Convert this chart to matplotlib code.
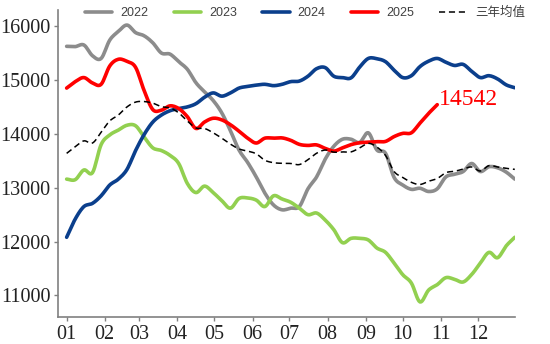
import numpy as np
import matplotlib
matplotlib.use("Agg")
import matplotlib.pyplot as plt

# Weekly prices (week 0 = first week of January)
weeks = list(range(53))

p2022 = [15625, 15620, 15650, 15450, 15400, 15740, 15900, 16020, 15880, 15820,
         15690, 15500, 15480, 15340, 15200, 14950, 14780, 14620, 14390, 14060,
         13700, 13470, 13200, 12900, 12680, 12590, 12620, 12650, 12980, 13200,
         13530, 13770, 13900, 13900, 13840, 14020, 13700, 13640, 13190, 13050,
         12970, 12990, 12930, 12980, 13200, 13250, 13300, 13450, 13300, 13390,
         13370, 13290, 13160]

p2023 = [13160, 13150, 13330, 13280, 13800, 13980, 14070, 14160, 14150, 13940,
         13740, 13690, 13600, 13450, 13080, 12910, 13030, 12910, 12760, 12620,
         12800, 12810, 12770, 12650, 12850, 12790, 12730, 12620, 12500, 12530,
         12400, 12220, 11980, 12060, 12060, 12030, 11880, 11800, 11600, 11385,
         11230, 10880, 11100, 11200, 11330, 11300, 11250, 11390, 11600, 11800,
         11700, 11920, 12080]

p2024 = [12080, 12420, 12650, 12710, 12850, 13050, 13160, 13340, 13690, 13990,
         14220, 14350, 14430, 14470, 14500, 14560, 14680, 14760, 14700, 14760,
         14850, 14880, 14905, 14920, 14895, 14920, 14970, 14980, 15070, 15210,
         15230, 15070, 15045, 15040, 15240, 15400, 15395, 15340, 15180, 15045,
         15080, 15250, 15350, 15400, 15330, 15270, 15290, 15160, 15045, 15080,
         15020, 14910, 14856]

p2025 = [14850, 14970, 15045, 14945, 14920, 15260, 15385, 15345, 15235, 14800,
         14450, 14440, 14520, 14470, 14320, 14100, 14220, 14290, 14260, 14170,
         14050, 13920, 13830, 13920, 13920, 13925, 13880, 13805, 13785, 13795,
         13730, 13680, 13740, 13800, 13835, 13845, 13855, 13860, 13950, 14009,
         14020, 14200, 14380, 14542]

avg3 = [13638, 13760, 13870, 13830, 14030, 14240, 14350, 14500, 14590, 14600,
        14570, 14505, 14480, 14390, 14240, 14110, 14100, 14020, 13920, 13810,
        13720, 13680, 13630, 13510, 13465, 13453, 13450, 13430, 13520, 13640,
        13700, 13660, 13665, 13665, 13740, 13824, 13755, 13600, 13300, 13190,
        13100, 13060, 13120, 13170, 13280, 13305, 13345, 13385, 13310, 13410,
        13385, 13360, 13341]

month_labels = ["01", "02", "03", "04", "05", "06", "07", "08", "09", "10", "11", "12"]
month_start_days = [0, 31, 59, 90, 120, 151, 181, 212, 243, 273, 304, 334]


def smooth(x, y, n=8):
    """Catmull-Rom curve through the weekly points."""
    x = np.asarray(x, float)
    y = np.asarray(y, float)
    px = np.concatenate([[2 * x[0] - x[1]], x, [2 * x[-1] - x[-2]]])
    py = np.concatenate([[2 * y[0] - y[1]], y, [2 * y[-1] - y[-2]]])
    t = np.linspace(0, 1, n, endpoint=False)
    xs, ys = [], []
    for i in range(1, len(px) - 2):
        for arr, out in ((px, xs), (py, ys)):
            p0, p1, p2, p3 = arr[i - 1], arr[i], arr[i + 1], arr[i + 2]
            out.extend(0.5 * (2 * p1 + (-p0 + p2) * t
                              + (2 * p0 - 5 * p1 + 4 * p2 - p3) * t ** 2
                              + (-p0 + 3 * p1 - 3 * p2 + p3) * t ** 3))
    xs.append(x[-1])
    ys.append(y[-1])
    return np.array(xs), np.array(ys)


fig = plt.figure(figsize=(5.5, 3.44), dpi=100)
ax = fig.add_axes([0.1055, 0.0785, 0.8305, 0.8925])

series = [
    ("2022", p2022, "#8c8c8c"),
    ("2023", p2023, "#92d050"),
    ("2024", p2024, "#0b3f8c"),
    ("2025", p2025, "#ff0000"),
]
for label, vals, color in series:
    xs, ys = smooth(weeks[:len(vals)], vals)
    ax.plot(xs, ys, color=color, lw=2.6, label=label, solid_capstyle="round")

xs, ys = smooth(weeks, avg3)
ax.plot(xs, ys, color="black", lw=1.1, ls=(0, (4, 2.5)), label="三年均值")

last_w = len(p2025) - 1
ax.text(last_w + 0.2, p2025[-1], f"{p2025[-1]}", color="#ff0000",
        fontsize=17, family="Liberation Serif", ha="left", va="baseline")

ax.set_xlim(-1.0, 52.0)
ax.set_ylim(10600, 16300)
ax.set_xticks([d / 7 for d in month_start_days])
ax.set_xticklabels(month_labels)
ax.set_yticks([11000, 12000, 13000, 14000, 15000, 16000])

for lab in ax.get_xticklabels() + ax.get_yticklabels():
    lab.set_family("Liberation Serif")
    lab.set_fontsize(14.5)

for side in ("top", "right"):
    ax.spines[side].set_visible(False)
for side in ("left", "bottom"):
    ax.spines[side].set_color("#808080")
    ax.spines[side].set_linewidth(1.2)
ax.tick_params(axis="both", colors="#808080", length=3, width=1, pad=2.5,
               labelcolor="#222222")

leg = ax.legend(loc="center left", bbox_to_anchor=(0.059, 0.99), ncol=5,
                frameon=False, borderpad=0, borderaxespad=0,
                handlelength=2.2, columnspacing=2.0, handletextpad=0.65,
                prop={"family": ["Liberation Sans", "Noto Sans CJK SC"], "size": 9})
for t in leg.get_texts():
    t.set_color("#404040")

fig.savefig("out.png", dpi=100)
